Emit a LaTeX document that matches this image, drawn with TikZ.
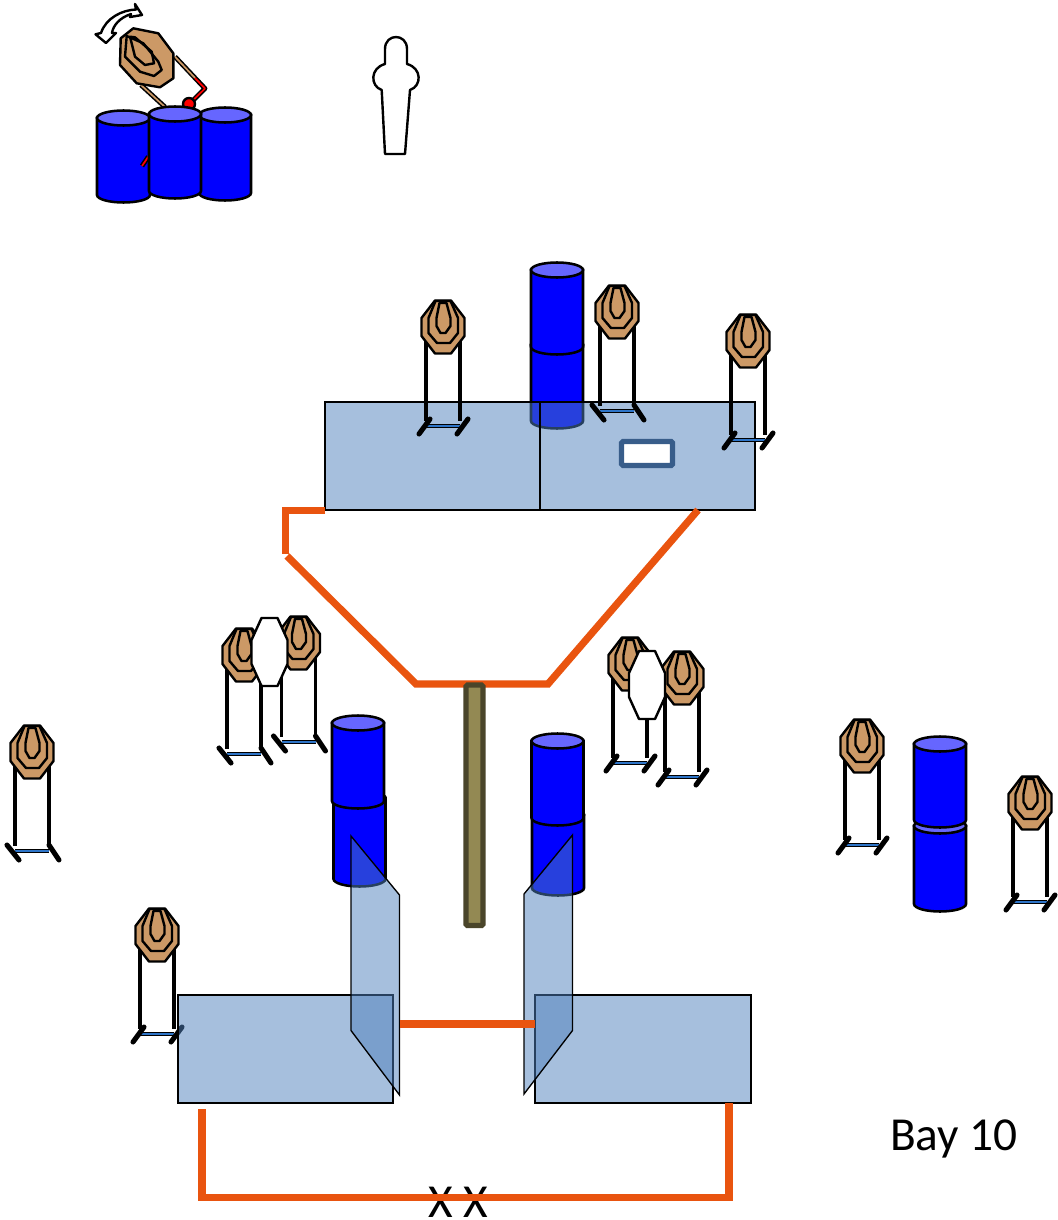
\documentclass[tikz,border=0pt]{standalone}
\usepackage{fontspec}
\setmainfont{Carlito}
\definecolor{caskblue}{HTML}{0000FF}
\definecolor{casktop}{HTML}{6666FF}
\definecolor{steeltan}{HTML}{CC9966}
\definecolor{panelblue}{HTML}{4F81BD}
\definecolor{courseorange}{HTML}{E9540F}
\definecolor{framebar}{HTML}{2E75C8}
\definecolor{postfill}{HTML}{938953}
\definecolor{postline}{HTML}{4A452A}
\definecolor{framerect}{HTML}{385D8A}
\definecolor{spinred}{HTML}{FF0000}
\tikzset{
  caskline/.style={draw=black,line width=1.9pt},
  outline/.style={draw=black,line width=1.8pt,line join=round},
  panel/.style={fill=panelblue,fill opacity=.5,draw=black,line width=1pt},
  course/.style={draw=courseorange,line width=5.4pt},
  legline/.style={draw=black,line width=2.9pt},
  footline/.style={draw=black,line width=3.8pt,line cap=round},
  steelface/.pic={
    \draw[outline,fill=steeltan] (-8,-26.5)--(8,-26.5)--(21.5,-9)--(21.5,9)--(8,26.5)--(-8,26.5)--(-21.5,9)--(-21.5,-9)--cycle;
    \draw[outline] (-7.5,-26)--(7.5,-26)--(15,-9)--(15,6)--(7,16)--(-6,16)--(-14.5,6)--(-14.5,-9)--cycle;
    \draw[outline] (-3.5,-24)--(3.5,-24)--(7.5,-9)--(7.5,-1)--(2.5,6)--(-2.5,6)--(-6.5,-1)--(-6.5,-9)--cycle;
  },
  framebase/.pic={
    \draw[legline] (-17,0)--(-17,94);
    \draw[legline] (17,0)--(17,94);
    \draw[draw=black,line width=3.4pt] (-17,99)--(17,99);
    \draw[draw=framebar,line width=1.1pt] (-17,99)--(17,99);
  },
  steelL/.pic={
    \pic {framebase};
    \draw[footline] (-13,92)--(-24,107);
    \draw[footline] (25,92)--(14,107);
    \pic {steelface};
  },
  steelR/.pic={
    \pic {framebase};
    \draw[footline] (-25,93)--(-13,108);
    \draw[footline] (17,93)--(27,108);
    \pic {steelface};
  },
  noshoot/.pic={
    \draw[outline,fill=white] (-8,-34)--(8,-34)--(18,-12)--(18,12)--(8,34)--(-8,34)--(-18,12)--(-18,-12)--cycle;
  }
}
% centre x, half width, y of top ellipse, y of bottom ellipse
\newcommand{\cask}[4]{%
  \draw[caskline,fill=caskblue] (#1-#2,#3) -- (#1-#2,#4)
     arc[start angle=180,end angle=0,x radius=#2,y radius=7.5] -- (#1+#2,#3) -- cycle;
  \draw[caskline,fill=casktop] (#1,#3) ellipse[x radius=#2,y radius=7.5];
}
\begin{document}
\begin{tikzpicture}[x=.75pt,y=-.75pt]
\useasboundingbox (0,0) rectangle (1057,1220);
\fill[white] (0,0) rectangle (1057,1220);

% ---- top left: swinger on barrels
\cask{123.5}{26.5}{118}{195}
\draw[draw=black,line width=3.6pt] (148.3,156.7)--(142,166);
\draw[draw=spinred,line width=1.3pt] (148.3,156.7)--(142,166);
\draw[draw=black,line width=3.6pt] (141,85)--(165,107);
\draw[draw=steeltan,line width=1.3pt] (141,85)--(165,107);
\draw[draw=black,line width=3.6pt,line join=round] (175,56.7)--(205,88.5)--(191.7,101.7);
\draw[draw=steeltan,line width=1.3pt] (175,56.7)--(195,78);
\draw[draw=spinred,line width=1.3pt,line join=round] (195,78)--(205,88.5)--(191.7,101.7);
\draw[outline,fill=spinred] (189,104) circle[radius=6];
\cask{225}{26}{115}{193}
\cask{175}{26}{114}{191}
\draw[outline,fill=steeltan] (133.3,28.3)--(158.3,33.3)--(173.3,53.3)--(173.3,78.3)--(160,87.3)--(136.7,83.3)--(120,65)--(120.7,38.3)--cycle;
\draw[outline] (126.7,36)--(143.3,43.3)--(158.3,61.7)--(161.7,70)--(154,76)--(140,71.7)--(125,56.7)--cycle;
\draw[outline] (130,36.7)--(135,37.3)--(151.7,51.7)--(154,63.3)--(145,65)--(135,56.7)--cycle;
\draw[outline,fill=white] (135,4)--(142,15)--(130,17)--(131,14)
   .. controls (119,18) and (113,26) .. (112,33)--(116,33)--(106,43)--(95.5,34.3)--(101,33)
   .. controls (106,18) and (122,10) .. (136,9.5)--cycle;

% ---- silhouette
\draw[outline,fill=white] (385,64)--(385,49) .. controls (385,33) and (407,33) .. (407,49)--(407,64)
   .. controls (422,68) and (422,86) .. (410,90)--(405,154)--(385,154)--(381.7,90)
   .. controls (370,86) and (370,68) .. (385,64)--cycle;

% ---- upper bay
\cask{557}{26}{345}{421}
\cask{557}{26}{270}{347}
\draw[panel] (325,402) rectangle (755,510);
\draw[draw=black,line width=1pt] (540,402)--(540,510);
\draw[draw=framerect,line width=3.8pt,rounded corners=1pt,fill=white] (621.5,441.5) rectangle (672.5,465.5);
\pic at (443,327) {steelL};
\pic at (617,312) {steelR};
\pic at (748,341) {steelL};
\draw[course] (325,510.5)--(285.5,510.5)--(285.5,554);
\draw[course,line join=miter] (287,556)--(416,684)--(548,684)--(698,510);

% ---- post
\draw[draw=postline,line width=3.8pt,fill=postfill,rounded corners=1pt] (466,685) rectangle (483,925.5);

% ---- middle targets
\pic at (32,752) {steelR};
\pic at (244,655) {steelR};
\pic at (298.5,643) {steelR};
\pic at (269.5,652) {noshoot};
\pic at (630,664) {steelL};
\pic at (682,678) {steelL};
\pic at (647,685) {noshoot};
\pic at (862,746) {steelL};
\pic at (1030,803) {steelL};
\pic at (157,935) {steelL};

% ---- barrel stacks
\cask{359.5}{26}{798}{879}
\cask{358}{26}{723}{801}
\cask{558}{26}{815}{888}
\cask{557.5}{26}{741}{818}
\cask{940}{26}{826}{904}
\cask{940}{26}{744}{820}

% ---- lower bay
\draw[panel] (178,995) rectangle (393,1103);
\draw[panel] (535,995) rectangle (751,1103);
\draw[panel] (351,836)--(399.5,895)--(399.5,1095)--(351,1030.5)--cycle;
\draw[panel] (572.5,835)--(524,894)--(524,1094)--(572.5,1030.5)--cycle;
\draw[course] (400,1024)--(535,1024);

% ---- texts and fault line
\node[anchor=base,inner sep=0pt] (baylabel) at (954,1150) {\fontsize{35.5}{40}\selectfont Bay 10};
\node[anchor=base,inner sep=0pt] (xxlabel) at (458,1217) {\fontsize{35.5}{40}\selectfont X X};
\draw[course,line join=miter] (202,1109)--(202,1197.5)--(729,1197.5)--(729,1103);
\end{tikzpicture}
\end{document}
